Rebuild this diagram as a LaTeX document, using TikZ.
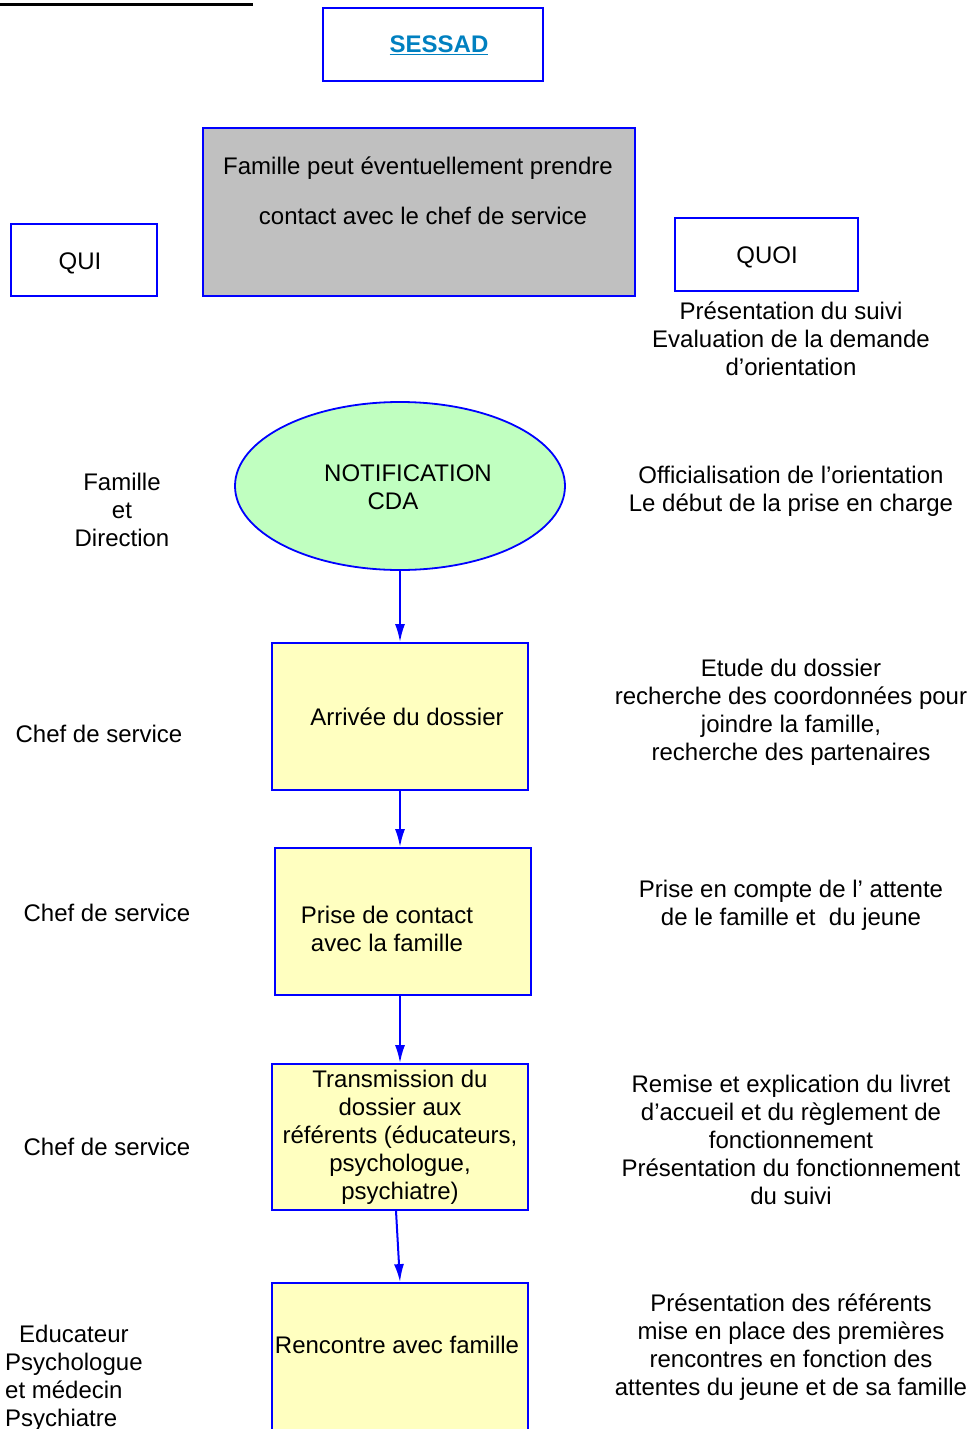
\documentclass[tikz,border=0pt]{standalone}
\usepackage{fontspec}
\setmainfont{Liberation Sans}
\usetikzlibrary{shapes.geometric,arrows.meta}

\definecolor{bleu}{RGB}{0,0,255}
\definecolor{lien}{RGB}{0,128,192}
\definecolor{gris}{RGB}{192,192,192}
\definecolor{vert}{RGB}{192,255,192}
\definecolor{jaune}{RGB}{255,255,192}

\tikzset{
    texte/.style={font=\fontsize{24}{28}\selectfont, align=center, inner sep=0pt},
    cadre/.style={texte, draw=bleu, line width=1.8pt, rectangle},
    etape/.style={cadre, fill=jaune, minimum width=256pt, minimum height=147pt},
    fleche/.style={draw=bleu, line width=2pt, -{Latex[length=18pt,width=10pt]}}
}

\begin{document}
\begin{tikzpicture}[x=1pt, y=-1pt]
    \useasboundingbox (0,0) rectangle (973,1429);
    \clip (0,0) rectangle (973,1429);

    % Titre (coupé)
    \draw[line width=3pt] (0,5) -- (253,5);

    % Ligne du haut
    \node[cadre, minimum width=220pt, minimum height=73pt] (sessad) at (433,44.5) {};
    \node[texte] (sessadtxt) at (439,45) {\textcolor{lien}{\bfseries\underline{SESSAD}}};
    \node[cadre, fill=gris, minimum width=432pt, minimum height=168pt] (famille) at (419,212) {};
    \node[texte] (ligne1) at (418,168) {Famille peut éventuellement prendre};
    \node[texte] (ligne2) at (423,216) {contact avec le chef de service};
    \node[cadre, minimum width=146pt, minimum height=72pt] (qui) at (84,260) {};
    \node[texte] (quitxt) at (80,263) {QUI};
    \node[cadre, minimum width=183pt, minimum height=73pt] (quoi) at (766.5,254.5) {};
    \node[texte] (quoitxt) at (767,257) {QUOI};
    \node[texte] (quoi1) at (791,339) {Présentation du suivi\\Evaluation de la demande\\d’orientation};

    % Notification
    \node[ellipse, draw=bleu, line width=1.8pt, fill=vert,
          minimum width=330pt, minimum height=168pt] (notif) at (400,486) {};
    \node[texte] (notiftxt) at (408,487) {NOTIFICATION\\\hspace*{-30pt}CDA};
    \node[texte] (qui1) at (122,510) {Famille\\et\\Direction};
    \node[texte] (quoi2) at (791,491) {Officialisation de l’orientation\\Le début de la prise en charge};

    % Etapes
    \node[etape] (arrivee) at (400,716.5) {\hspace*{14pt}Arrivée du dossier};
    \node[texte] (qui2) at (99,734) {Chef de service};
    \node[texte] (quoi3) at (791,712) {Etude du dossier\\recherche des coordonnées pour\\joindre la famille,\\recherche des partenaires};

    \node[etape] (prise) at (403,921.5) {};
    \node[texte] (prisetxt) at (387,929) {Prise de contact\\avec la famille};
    \node[texte] (qui3) at (107,913) {Chef de service};
    \node[texte] (quoi4) at (791,905) {Prise en compte de l’ attente\\de le famille et\ \ du jeune};

    \node[etape, minimum height=146pt] (transmission) at (400,1137)
        {Transmission du\\dossier aux\\référents (éducateurs,\\psychologue,\\psychiatre)};
    \node[texte] (qui4) at (107,1147) {Chef de service};
    \node[texte] (quoi5) at (791,1140) {Remise et explication du livret\\d’accueil et du règlement de\\fonctionnement\\Présentation du fonctionnement\\du suivi};

    \node[etape, minimum height=160pt] (rencontre) at (400,1363) {};
    \node[texte] (rencontretxt) at (397,1345) {Rencontre avec famille};
    \node[texte, align=left, anchor=west] (qui5) at (5,1378)
        {\hspace*{14pt}Educateur\\Psychologue\\et médecin\\Psychiatre};
    \node[texte] (quoi6) at (791,1347) {Présentation des référents\\mise en place des premières\\rencontres en fonction des\\attentes du jeune et de sa famille};

    % Flèches
    \draw[fleche] (notif.south) -- (arrivee.north);
    \draw[fleche] (arrivee.south) -- (arrivee.south |- prise.north);
    \draw[fleche] (arrivee.south |- prise.south) -- (transmission.north);
    \draw[fleche] ([xshift=-4pt]transmission.south) -- (rencontre.north);
\end{tikzpicture}
\end{document}
